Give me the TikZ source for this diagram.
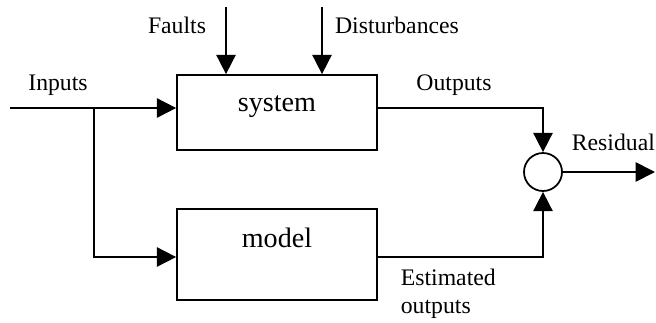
\documentclass[tikz,border=0pt]{standalone}
\usepackage{fontspec}
\setmainfont{Liberation Serif}
\usetikzlibrary{arrows.meta,positioning}
\begin{document}
\begin{tikzpicture}[x=0.02cm, y=-0.02cm, line width=1pt, line join=miter,
	>={Triangle[length=11pt,width=11pt]},
	lbl/.style={font=\fontsize{13.5}{16}\selectfont, inner sep=0pt},
	big/.style={font=\fontsize{16}{18}\selectfont, inner sep=0pt},
	blk/.style={draw, rectangle, minimum width=4cm, inner sep=0pt}]
	\useasboundingbox (0,0) rectangle (656,322);
	% blocks
	\node[blk, minimum height=1.5cm] (sys) at (277,112.5) {};
	\node[big] (systxt) at (277,107) {system};
	\node[blk, minimum height=1.82cm] (mdl) at (277,254.5) {};
	\node[big] (mdltxt) at (277,238) {model};
	\node[circle, draw, minimum size=0.76cm, inner sep=0pt] (sum) at (543,172) {};
	% points
	\coordinate (in) at (10,108);
	\coordinate (br) at (94,108);
	\coordinate (so) at (543,108);
	\coordinate (mo) at (543,257);
	\coordinate (flt) at (226,7);
	\coordinate (dst) at (322,7);
	\coordinate (res) at (655,172);
	% signals
	\draw (in) -- (br);
	\draw[->] (br) -- (br -| sys.west);
	\draw[->] (br) |- (mdl.west |- mo);
	\draw[->] (flt) -- (flt |- sys.north);
	\draw[->] (dst) -- (dst |- sys.north);
	\draw[->] (sys.east |- so) -- (so) -- (sum.north);
	\draw[->] (mdl.east |- mo) -- (mo) -- (sum.south);
	\draw[->] (sum.east) -- (res);
	% texts
	\node[lbl] (fl) at (177,25) {Faults};
	\node[lbl] (di) at (397,25) {Disturbances};
	\node[lbl] (inl) at (58,85) {Inputs};
	\node[lbl] (outl) at (454,85) {Outputs};
	\node[lbl, anchor=west] (resl) at (571,142) {Residual};
	\node[lbl, anchor=west, align=left] (estl) at (400,294) {Estimated\\outputs};
\end{tikzpicture}
\end{document}
